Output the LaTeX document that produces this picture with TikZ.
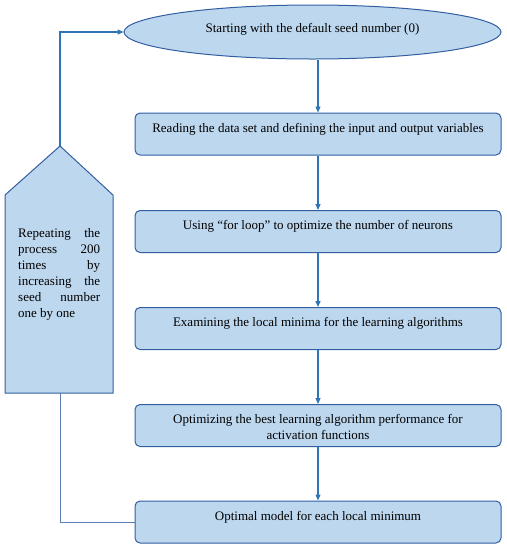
\documentclass[tikz,border=0pt]{standalone}
\usepackage{fontspec}
\setmainfont{Liberation Serif}
\usetikzlibrary{arrows.meta,shapes.geometric}
\definecolor{fillb}{RGB}{189,215,238}
\definecolor{edgeb}{RGB}{50,95,160}
\definecolor{arrb}{RGB}{46,117,182}
\newcommand{\boxtext}[1]{\parbox[c][42pt][t]{360pt}{\centering\rule{0pt}{19pt}#1}}
\begin{document}
\begin{tikzpicture}[x=1pt,y=-1pt,
  txt/.style={font=\fontsize{13}{16}\selectfont},
  stepbox/.style={txt, draw=edgeb, line width=1pt, fill=fillb, rounded corners=5pt,
    minimum width=366pt, minimum height=42pt, inner sep=0pt},
  startbox/.style={txt, ellipse, draw=edgeb, line width=1pt, fill=fillb,
    minimum width=377pt, minimum height=54pt, inner sep=0pt, text height=7pt, text depth=7pt},
  flow/.style={draw=arrb, line width=1.2pt, -{Triangle[length=6pt,width=5pt]}},
  back/.style={draw=edgeb!80!white, line width=1pt}]
\useasboundingbox (0,0) rectangle (507,550);
\node[startbox] (start) at (312.5,32) {Starting with the default seed number (0)};
\node[stepbox] (s1) at (318,134) {\boxtext{Reading the data set and defining the input and output variables}};
\node[stepbox] (s2) at (318,231.5) {\boxtext{Using “for loop” to optimize the number of neurons}};
\node[stepbox] (s3) at (318,328.5) {\boxtext{Examining the local minima for the learning algorithms}};
\node[stepbox] (s4) at (318,425.5) {\boxtext{Optimizing the best learning algorithm performance for\\ activation functions}};
\node[stepbox] (s5) at (318,522) {\boxtext{Optimal model for each local minimum}};
% pentagon
\coordinate (apex) at (60,146);
\coordinate (base) at (60,393);
\filldraw[fill=fillb, draw=edgeb, line width=1pt] (apex) -- (113,195) -- (113,393) -- (5,393) -- (5,195) -- cycle;
\node[txt, anchor=base west, inner sep=0pt] (rep) at (18,237) {\parbox[t]{82pt}{\fontsize{13}{16}\selectfont
Repeating\hfill the\\ process\hfill 200\\ times\hfill by\\ increasing\hfill the\\ seed\hfill number\\ one by one}};
% connectors
\draw[flow] (s1.north |- start.south) -- (s1.north);
\draw[flow] (s1.south) -- (s2.north);
\draw[flow] (s2.south) -- (s3.north);
\draw[flow] (s3.south) -- (s4.north);
\draw[flow] (s4.south) -- (s5.north);
\draw[flow] (apex) |- (start.west);
\draw[back] (base) |- (s5.west);
\end{tikzpicture}
\end{document}
